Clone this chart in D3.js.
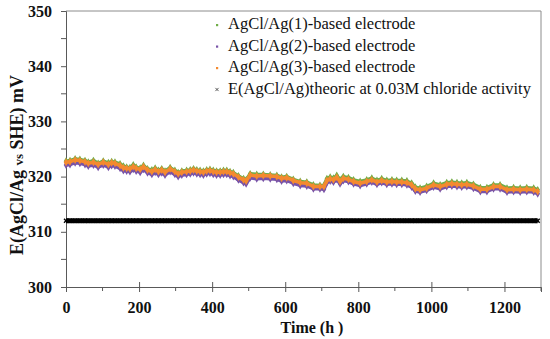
<!DOCTYPE html>
<html>
<head>
<meta charset="utf-8">
<script src="https://cdn.jsdelivr.net/npm/d3@7"></script>
<style>
  body { margin: 0; background: #fff; }
  svg { display: block; }
  svg text { font-family: "Liberation Serif", "DejaVu Serif", serif; }
</style>
</head>
<body>
<div id="chart"></div>
<script>
// DATA //
const times = [0, 11, 25, 38, 52, 61, 75, 88, 102, 116, 125, 134, 148, 157, 166, 175, 184, 192, 203, 212,
    223, 235, 244, 253, 262, 271, 285, 298, 307, 317, 330, 340, 349, 358, 367, 376, 385, 394, 403, 412,
    422, 431, 440, 449, 458, 472, 486, 493, 504, 522, 540, 559, 577, 590, 604, 622, 641, 659, 677, 695,
    706, 714, 723, 732, 741, 750, 759, 773, 787, 805, 823, 837, 851, 864, 878, 892, 905, 919, 933, 946,
    956, 969, 987, 1006, 1024, 1042, 1056, 1070, 1083, 1097, 1115, 1134, 1152, 1170, 1188, 1207, 1225, 1243, 1261, 1280,
    1291]

// AgCl/Ag(1) - green
const electrode1 = [322.8, 322.9, 323.2, 323.1, 322.9, 322.6, 322.9, 322.4, 322.8, 322.5, 322.7, 322.6, 322.3, 321.9, 321.7, 321.6, 322.1, 321.7, 321.5, 322.0,
    321.4, 321.2, 321.5, 321.1, 321.4, 321.0, 321.6, 321.1, 320.7, 321.0, 321.1, 321.2, 321.4, 321.2, 321.1, 321.0, 321.2, 321.3, 321.1, 321.0,
    321.0, 321.1, 321.1, 320.9, 320.7, 320.1, 319.6, 319.4, 320.5, 320.4, 320.4, 320.3, 320.2, 319.9, 320.0, 319.5, 319.1, 319.0, 318.5, 318.4,
    318.4, 319.6, 319.9, 319.7, 320.2, 319.4, 320.0, 319.8, 319.4, 319.1, 319.4, 319.7, 319.3, 319.6, 319.3, 319.4, 319.3, 319.3, 319.2, 318.8,
    318.1, 317.9, 318.2, 318.8, 318.5, 318.9, 319.0, 318.9, 318.8, 318.9, 318.6, 318.0, 318.0, 318.5, 318.5, 317.9, 318.0, 317.9, 318.0, 317.9,
    317.6]

// AgCl/Ag(2) - purple
const electrode2 = [322.1, 322.2, 322.5, 322.4, 322.2, 321.9, 322.1, 321.7, 322.1, 321.7, 322.0, 321.9, 321.5, 321.1, 321.0, 320.9, 321.3, 321.0, 320.8, 321.3,
    320.7, 320.4, 320.8, 320.4, 320.7, 320.3, 320.9, 320.4, 320.0, 320.3, 320.4, 320.5, 320.7, 320.5, 320.4, 320.3, 320.5, 320.6, 320.4, 320.3,
    320.3, 320.4, 320.4, 320.2, 320.0, 319.4, 318.9, 318.7, 319.8, 319.6, 319.7, 319.6, 319.5, 319.2, 319.3, 318.8, 318.4, 318.3, 317.8, 317.8,
    317.7, 318.9, 319.2, 319.0, 319.5, 318.7, 319.3, 319.1, 318.7, 318.4, 318.7, 319.0, 318.6, 318.9, 318.6, 318.7, 318.6, 318.6, 318.5, 318.1,
    317.4, 317.2, 317.5, 318.1, 317.8, 318.2, 318.3, 318.2, 318.1, 318.2, 317.9, 317.3, 317.3, 317.8, 317.8, 317.2, 317.3, 317.2, 317.3, 317.2,
    316.9]

// AgCl/Ag(3) - orange
const electrode3 = [322.6, 322.7, 323.0, 322.9, 322.7, 322.4, 322.6, 322.2, 322.6, 322.2, 322.5, 322.4, 322.0, 321.6, 321.5, 321.4, 321.8, 321.5, 321.3, 321.8,
    321.2, 320.9, 321.3, 320.9, 321.2, 320.8, 321.4, 320.9, 320.5, 320.8, 320.9, 321.0, 321.2, 321.0, 320.9, 320.8, 321.0, 321.1, 320.9, 320.8,
    320.8, 320.9, 320.9, 320.7, 320.5, 319.9, 319.4, 319.2, 320.3, 320.1, 320.2, 320.1, 320.0, 319.7, 319.8, 319.3, 318.9, 318.8, 318.2, 318.2,
    318.2, 319.3, 319.6, 319.4, 319.9, 319.1, 319.7, 319.5, 319.1, 318.8, 319.1, 319.4, 319.0, 319.3, 319.0, 319.1, 319.0, 319.0, 318.9, 318.5,
    317.8, 317.6, 317.9, 318.5, 318.2, 318.6, 318.7, 318.6, 318.5, 318.6, 318.3, 317.7, 317.7, 318.2, 318.2, 317.6, 317.7, 317.6, 317.7, 317.6,
    317.3]

// theoretical potential at 0.03M chloride activity (mV)
const theoryValue = 312

const seriesNames = [
    "AgCl/Ag(1)-based electrode",
    "AgCl/Ag(2)-based electrode",
    "AgCl/Ag(3)-based electrode",
    "E(AgCl/Ag)theoric at 0.03M chloride activity",
]
const seriesColors = ["#70ad47", "#7853a8", "#f48a2f", "#000000"]

const xTicks = [0, 200, 400, 600, 800, 1000, 1200]
const xMinorTicks = [100, 300, 500, 700, 900, 1100, 1300]
const yTicks = [300, 310, 320, 330, 340, 350]
const yMinorTicks = [305, 315, 325, 335, 345]

// DIMENSIONS //
let dimensions = {
    width: 550,
    height: 339,
    margin: { top: 11, right: 9, bottom: 52, left: 66 },
}
dimensions.boundedWidth = dimensions.width - dimensions.margin.left - dimensions.margin.right
dimensions.boundedHeight = dimensions.height - dimensions.margin.top - dimensions.margin.bottom

const xScale = d3.scaleLinear().domain([0, 1300]).range([0, dimensions.boundedWidth])
const yScale = d3.scaleLinear().domain([300, 350]).range([dimensions.boundedHeight, 0])

const axisColor = "#595959"
const serif = '"Liberation Serif", "DejaVu Serif", serif'

const svg = d3.select("#chart")
    .append("svg")
    .attr("width", dimensions.width)
    .attr("height", dimensions.height)

const bounds = svg.append("g")
    .attr("transform", `translate(${dimensions.margin.left},${dimensions.margin.top})`)

// frame (top + right)
bounds.append("path")
    .attr("d", `M0,0H${dimensions.boundedWidth}V${dimensions.boundedHeight}`)
    .attr("fill", "none")
    .attr("stroke", "#8c8c8c")

// y axis
const yAxis = bounds.append("g")
    .call(d3.axisLeft(yScale).tickValues(yTicks).tickSize(5).tickPadding(9))
yAxis.attr("font-family", null)
yAxis.select(".domain").attr("stroke", axisColor)
yAxis.selectAll(".tick line").attr("stroke", axisColor)
yAxis.selectAll("text")
    .style("font-family", serif)
    .style("font-weight", "bold")
    .style("font-size", "16px")
    .attr("fill", "#111")

bounds.append("g")
    .selectAll("line")
    .data(yMinorTicks)
    .join("line")
    .attr("x1", -5).attr("x2", 0)
    .attr("y1", d => yScale(d)).attr("y2", d => yScale(d))
    .attr("stroke", axisColor)

// x axis
const xAxis = bounds.append("g")
    .attr("transform", `translate(0,${dimensions.boundedHeight})`)
    .call(d3.axisBottom(xScale).tickValues(xTicks).tickSize(5).tickFormat(d3.format("d")))
xAxis.attr("font-family", null)
xAxis.select(".domain").attr("stroke", axisColor)
xAxis.selectAll(".tick line").attr("y1", -5).attr("stroke", axisColor)
xAxis.selectAll("text")
    .attr("y", 14.5)
    .style("font-family", serif)
    .style("font-weight", "bold")
    .style("font-size", "16px")
    .attr("fill", "#111")

bounds.append("g")
    .attr("transform", `translate(0,${dimensions.boundedHeight})`)
    .selectAll("line")
    .data(xMinorTicks)
    .join("line")
    .attr("x1", d => xScale(d)).attr("x2", d => xScale(d))
    .attr("y1", 0).attr("y2", 4)
    .attr("stroke", axisColor)

// axis titles
svg.append("text")
    .attr("x", 312)
    .attr("y", 333)
    .attr("text-anchor", "middle")
    .style("font-family", serif)
    .style("font-weight", "bold")
    .style("font-size", "16px")
    .attr("fill", "#111")
    .text("Time (h )")

const yTitle = svg.append("text")
    .attr("transform", "translate(23,165) rotate(-90)")
    .attr("text-anchor", "middle")
    .style("font-family", serif)
    .style("font-weight", "bold")
    .style("font-size", "18px")
    .attr("fill", "#111")
yTitle.append("tspan").text("E(AgCl/Ag ")
yTitle.append("tspan").style("font-size", "13px").text("vs")
yTitle.append("tspan").text(" SHE) mV")

// theoretical line of × markers
const theoryData = times.map(t => ({ t: t, v: theoryValue }))
bounds.append("path")
    .datum(theoryData)
    .attr("d", d3.line().x(d => xScale(d.t)).y(d => yScale(d.v)))
    .attr("fill", "none")
    .attr("stroke", "#000")
    .attr("stroke-width", 5)
bounds.append("g")
    .selectAll("path")
    .data(theoryData)
    .join("path")
    .attr("transform", d => `translate(${xScale(d.t)},${yScale(d.v)})`)
    .attr("d", d3.symbol(d3.symbolX, 12))
    .attr("stroke", "#000")
    .attr("stroke-width", 1.4)
    .attr("fill", "none")

// electrode series: green, purple, then orange on top
const electrodes = [
    { name: seriesNames[0], color: seriesColors[0], values: electrode1 },
    { name: seriesNames[1], color: seriesColors[1], values: electrode2 },
    { name: seriesNames[2], color: seriesColors[2], values: electrode3 },
]

const lineGen = d3.line()
    .x((d, i) => xScale(times[i]))
    .y(d => yScale(d))

electrodes.forEach(s => {
    bounds.append("path")
        .datum(s.values)
        .attr("d", lineGen)
        .attr("fill", "none")
        .attr("stroke", s.color)
        .attr("stroke-width", 3.5)
        .attr("stroke-linejoin", "round")
    bounds.append("g")
        .selectAll("path")
        .data(s.values)
        .join("path")
        .attr("transform", (d, i) => `translate(${xScale(times[i])},${yScale(d)})`)
        .attr("d", d3.symbol(d3.symbolDiamond, 18))
        .attr("fill", s.color)
})

// legend
const legend = svg.append("g")
    .attr("transform", "translate(217,0)")
const legendRows = legend.selectAll("g")
    .data(seriesNames)
    .join("g")
    .attr("transform", (d, i) => `translate(0,${29 + i * 21.5})`)

legendRows.filter((d, i) => i < 3)
    .append("rect")
    .attr("x", -1).attr("y", -5)
    .attr("width", 2.2).attr("height", 2.2)
    .attr("fill", (d, i) => seriesColors[i])

legendRows.filter((d, i) => i == 3)
    .append("path")
    .attr("transform", "translate(0,-4)")
    .attr("d", d3.symbol(d3.symbolX, 8))
    .attr("stroke", "#333")
    .attr("stroke-width", 0.8)

legendRows.append("text")
    .attr("x", 11)
    .style("font-family", serif)
    .style("font-size", "16.5px")
    .attr("fill", "#111")
    .text(d => d)
</script>
</body>
</html>
